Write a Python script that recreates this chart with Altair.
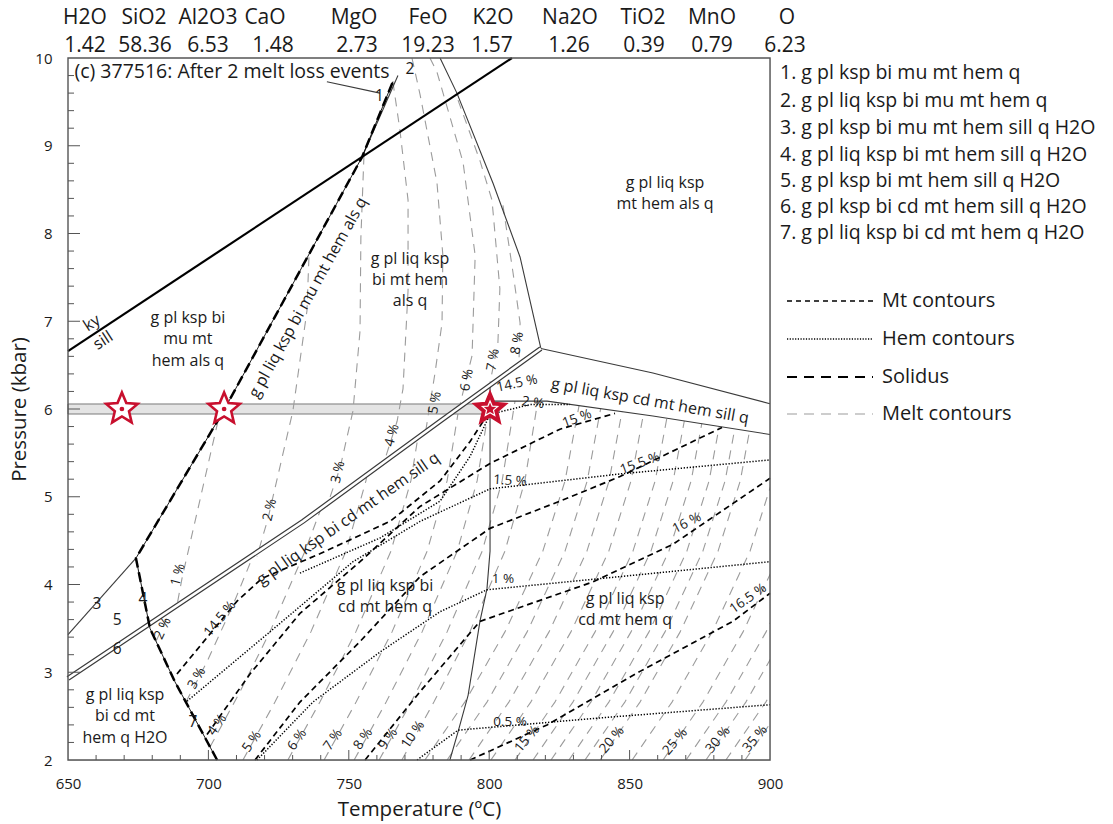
import altair as alt
import pandas as pd

FONT = "Open Sans"
RED = "#c8102e"
INK = "#1a1a1a"
GREY = "#9c9c9c"

# ---------------- bulk composition (header) ----------------
oxides = ["H2O", "SiO2", "Al2O3", "CaO", "MgO", "FeO", "K2O", "Na2O", "TiO2", "MnO", "O"]
amounts = ["1.42", "58.36", "6.53", "1.48", "2.73", "19.23", "1.57", "1.26", "0.39", "0.79", "6.23"]

# ---------------- phase boundaries (T in degC, P in kbar) ----------------
ky_sill = [(650, 6.66), (808.1, 10.0)]
solidus = [(703.1, 2.0), (688.1, 2.89), (679.2, 3.50), (674.2, 4.30),
           (705.6, 5.99), (754.7, 8.87), (765.7, 9.73)]
reaction_12 = [(754.7, 8.87), (767.5, 9.80)]
leader_1 = [(742.2, 9.73), (761.1, 9.60)]
line_3 = [(650, 3.43), (674.2, 4.30)]
bi_out = [(800.3, 6.25), (800.3, 6.0), (800.3, 4.38), (799.2, 3.95), (796.7, 3.58),
          (792.5, 2.74), (788.9, 2.32), (786.0, 2.0)]
liq_edge = [(782.5, 10.0), (788.5, 9.60), (801.4, 8.57), (811.0, 7.73), (818.4, 6.69)]
cd_sill_top = [(818.4, 6.69), (858.3, 6.41), (900, 6.06)]
cd_sill_base = [(800.3, 6.09), (820.6, 6.09), (858.3, 5.92), (900, 5.71)]
sill_out = [(650, 2.93), (733.7, 4.72), (782.5, 5.86), (818.4, 6.69)]

# ---------------- melt isopleths (vol %) ----------------
melt_upper = {
    "1": [(703.4, 5.86), (690.6, 4.07), (688.8, 3.76)],
    "2": [(735.8, 7.73), (735.1, 7.12), (730.1, 5.98), (721.2, 4.75), (717.3, 4.32)],
    "3": [(755.4, 8.89), (754.3, 7.95), (754.0, 6.89), (751.5, 5.98), (746.9, 5.33), (742.2, 4.89)],
    "4": [(765.7, 9.73), (768.2, 9.18), (771.1, 8.38), (771.1, 7.35), (769.3, 6.23), (767.2, 5.86), (762.9, 5.43)],
    "5": [(772.5, 10.0), (775.4, 9.58), (781.4, 8.58), (783.5, 7.75), (783.2, 6.98), (780.7, 6.41), (777.5, 5.77)],
    "6": [(778.9, 10.0), (781.4, 9.84), (790.7, 8.81), (795.0, 7.75), (793.9, 6.61), (789.6, 6.05)],
    "7": [(788.9, 9.52), (796.7, 8.83), (801.0, 8.38), (803.8, 7.37), (803.1, 6.75), (800.3, 6.30)],
    "8": [(804.9, 8.32), (808.5, 7.55), (811.0, 6.98), (810.6, 6.53)],
}
melt_lower = {
    "2": [(681.3, 3.35), (687.0, 3.74), (689.2, 3.87)],
    "3": [(692.0, 2.66), (699.5, 3.12), (708.8, 3.77), (716.6, 4.38)],
    "4": [(700.6, 2.15), (711.3, 2.78), (721.9, 3.46), (734.4, 4.38), (745.1, 5.29)],
    "5": [(712.3, 2.0), (723.7, 2.66), (736.5, 3.46), (749.0, 4.38), (756.1, 5.18), (760.7, 6.09)],
    "6": [(728.3, 2.0), (739.7, 2.66), (752.5, 3.46), (765.0, 4.38), (772.1, 5.18), (776.7, 6.09)],
    "7": [(741.2, 2.0), (752.6, 2.66), (765.4, 3.46), (777.9, 4.38), (785.0, 5.18), (789.6, 6.09)],
    "8": [(751.9, 2.0), (763.3, 2.66), (776.1, 3.46), (788.6, 4.38), (795.7, 5.18), (800.3, 6.09)],
    "9": [(760.8, 2.0), (772.2, 2.66), (785.0, 3.46), (797.5, 4.38), (804.6, 5.18), (809.2, 6.09)],
    "10": [(768.9, 2.0), (780.3, 2.66), (793.1, 3.46), (805.6, 4.38), (812.7, 5.18), (817.3, 6.09)],
    "11": [(777.1, 2.0), (791.3, 2.66), (805.6, 3.46), (819.1, 4.38), (827.0, 5.18), (832.3, 6.09)],
    "12": [(785.0, 2.0), (799.2, 2.66), (813.5, 3.46), (827.0, 4.38), (834.9, 5.18), (840.2, 6.09)],
    "13": [(792.8, 2.0), (807.0, 2.66), (821.3, 3.46), (834.8, 4.38), (842.7, 5.18), (848.0, 6.09)],
    "14": [(800.6, 2.0), (814.8, 2.66), (829.1, 3.46), (842.6, 4.38), (850.5, 5.18), (855.8, 6.09)],
    "15": [(809.2, 2.0), (823.4, 2.66), (837.7, 3.46), (851.2, 4.38), (859.1, 5.18), (864.4, 6.09)],
    "16": [(815.6, 2.0), (829.8, 2.66), (844.1, 3.46), (857.6, 4.38), (865.5, 5.18), (870.8, 6.09)],
    "17": [(822.0, 2.0), (836.2, 2.66), (850.5, 3.46), (864.0, 4.38), (871.9, 5.18), (877.2, 6.09)],
    "18": [(828.4, 2.0), (842.6, 2.66), (856.9, 3.46), (870.4, 4.38), (878.3, 5.18), (883.6, 6.09)],
    "19": [(834.1, 2.0), (848.3, 2.66), (862.6, 3.46), (876.1, 4.38), (884.0, 5.18), (889.3, 6.09)],
    "20": [(839.5, 2.0), (853.7, 2.66), (868.0, 3.46), (881.5, 4.38), (889.4, 5.18), (894.7, 6.09)],
    "22.5": [(850.9, 2.0), (865.1, 2.66), (879.4, 3.46), (892.9, 4.38), (900.8, 5.18)],
    "25": [(861.9, 2.0), (876.1, 2.66), (890.4, 3.46), (903.9, 4.38)],
    "27.5": [(870.1, 2.0), (884.3, 2.66), (898.6, 3.46), (912.1, 4.38)],
    "30": [(877.2, 2.0), (891.4, 2.66), (905.7, 3.46)],
    "32.5": [(884.3, 2.0), (898.5, 2.66), (912.8, 3.46)],
    "35": [(891.1, 2.0), (905.3, 2.66)],
}

# ---------------- magnetite / hematite isopleths ----------------
mt_contours = {
    "14.5": [(688.8, 2.98), (710.2, 3.81), (719.1, 4.07), (739.7, 4.35), (764.7, 4.72),
             (782.5, 5.18), (793.2, 5.63), (800.3, 5.98)],
    "15": [(699.5, 2.29), (714.8, 2.98), (732.6, 3.67), (754.0, 4.26), (775.4, 4.89),
           (800.3, 5.38), (825.2, 5.77), (844.8, 5.95)],
    "15.5": [(716.6, 2.0), (732.6, 2.66), (754.0, 3.35), (775.4, 4.09), (800.3, 4.64),
             (825.2, 4.95), (846.6, 5.23), (882.9, 5.79)],
    "16": [(755.8, 2.0), (775.4, 2.78), (796.7, 3.58), (837.0, 4.03), (865.5, 4.46), (900, 5.21)],
    "16.5": [(793.2, 2.0), (820.6, 2.40), (853.7, 3.01), (886.8, 3.58), (900, 3.90)],
}
hem_contours = {
    "2": [(732.6, 4.13), (761.1, 4.53), (782.5, 4.95), (793.2, 5.46), (800.3, 5.94),
          (814.5, 6.05), (828.8, 6.05)],
    "1.5": [(692.4, 2.67), (721.9, 3.46), (751.5, 4.26), (775.4, 4.72), (800.3, 5.09),
            (846.6, 5.26), (900, 5.42)],
    "1": [(717.3, 2.0), (737.2, 2.66), (761.1, 3.23), (782.5, 3.69), (799.2, 3.94),
          (846.6, 4.09), (900, 4.26)],
    "0.5": [(774.3, 2.0), (788.9, 2.34), (839.5, 2.48), (900, 2.63)],
}

# sample path, bracketed by the grey band
band = {"T": 650, "T2": 800.3, "P": 5.943, "P2": 6.057}
star_T = [669.2, 705.6, 800.3]
star_P = [6.0, 6.0, 6.0]

# ---------------- labels ----------------
field_labels = [
    ("g pl ksp bi", 692.7, 7.04), ("mu mt", 692.7, 6.80), ("hem als q", 692.7, 6.55),
    ("g pl liq ksp", 771.8, 7.71), ("bi mt hem", 771.8, 7.47), ("als q", 771.8, 7.23),
    ("g pl liq ksp", 862.6, 8.58), ("mt hem als q", 862.6, 8.34),
    ("g pl liq ksp", 848.4, 3.84), ("cd mt hem q", 848.4, 3.60),
    ("g pl liq ksp bi", 762.9, 3.98), ("cd mt hem q", 762.9, 3.74),
    ("g pl liq ksp", 670.3, 2.74), ("bi cd mt", 670.3, 2.50), ("hem q H2O", 670.3, 2.25),
]
rotated_labels = [
    ("g pl liq ksp bi mu mt hem als q", 735.5, 7.27, 299),
    ("g pl liq ksp bi cd mt hem sill q", 749.8, 4.75, 325),
    ("g pl liq ksp cd mt hem sill q", 857.3, 6.09, 10),
    ("ky", 658.5, 6.98, 327), ("sill", 662.5, 6.78, 327),
]
pct_labels = [
    ("1 %", 689.2, 4.11, 285), ("2 %", 721.9, 4.85, 283), ("3 %", 746.2, 5.28, 283),
    ("4 %", 765.4, 5.70, 285), ("5 %", 780.7, 6.07, 280), ("6 %", 792.1, 6.33, 280),
    ("7 %", 801.4, 6.56, 280), ("8 %", 810.0, 6.75, 280),
    ("2 %", 683.8, 3.50, 295), ("3 %", 695.9, 2.93, 300), ("4 %", 703.1, 2.40, 305),
    ("5 %", 715.5, 2.21, 305), ("6 %", 731.6, 2.23, 305), ("7 %", 744.4, 2.23, 305),
    ("8 %", 755.1, 2.24, 305), ("9 %", 764.0, 2.24, 305), ("10 %", 772.9, 2.29, 305),
    ("15 %", 813.5, 2.24, 310), ("20 %", 843.7, 2.23, 310), ("25 %", 866.2, 2.21, 310),
    ("30 %", 881.5, 2.23, 310), ("35 %", 894.7, 2.24, 310),
    ("14.5 %", 704.1, 3.61, 310), ("14.5 %", 809.9, 6.29, 348), ("15 %", 831.3, 5.89, 340),
    ("15.5 %", 853.7, 5.38, 340), ("16 %", 870.4, 4.70, 333), ("16.5 %", 892.2, 3.84, 325),
    ("2 %", 815.6, 6.07, 8), ("1.5 %", 807.4, 5.18, 4), ("1 %", 804.9, 4.06, 0),
    ("0.5 %", 807.4, 2.43, 0),
]
field_numbers = [("1", 760.9, 9.57), ("2", 771.8, 9.88), ("3", 660.3, 3.78), ("4", 676.7, 3.84),
                 ("5", 667.5, 3.60), ("6", 667.5, 3.26), ("7", 694.5, 2.43)]
numbered_fields = [
    "1. g pl ksp bi mu mt hem q",
    "2. g pl liq ksp bi mu mt hem q",
    "3. g pl ksp bi mu mt hem sill q H2O",
    "4. g pl liq ksp bi mt hem sill q H2O",
    "5. g pl ksp bi mt hem sill q H2O",
    "6. g pl ksp bi cd mt hem sill q H2O",
    "7. g pl liq ksp bi cd mt hem q H2O",
]
key_names = ["Mt contours", "Hem contours", "Solidus", "Melt contours"]

x_major = [650, 700, 750, 800, 850, 900]
y_major = [2, 3, 4, 5, 6, 7, 8, 9, 10]
x_minor = [t for t in range(660, 900, 10) if t % 50]
y_minor = [round(2 + 0.2 * k, 1) for k in range(1, 40) if k % 5]

# ---------------- helpers ----------------
xs = alt.Scale(domain=[650, 900], nice=False, zero=False)
ys = alt.Scale(domain=[2, 10], nice=False, zero=False)
x_axis = alt.Axis(values=x_major, tickSize=0, domain=False, grid=False, labelFontSize=15,
                  labelPadding=16, labelFont=FONT, labelColor=INK, labelFlush=False,
                  titleFont=FONT, titleFontSize=20.5, titleFontWeight="normal",
                  titleColor=INK, titlePadding=8)
y_axis = alt.Axis(values=y_major, tickSize=0, domain=False, grid=False, labelFontSize=15,
                  labelPadding=16, labelFont=FONT, labelColor=INK, labelFlush=False,
                  titleFont=FONT, titleFontSize=20.5, titleFontWeight="normal",
                  titleColor=INK, titlePadding=5)


def X(field="T"):
    return alt.X(f"{field}:Q", scale=xs, axis=x_axis, title="Temperature (ºC)")


def Y(field="P"):
    return alt.Y(f"{field}:Q", scale=ys, axis=y_axis, title="Pressure (kbar)")


def paths_df(paths):
    rows = []
    for name, pts in paths.items():
        for i, (t, p) in enumerate(pts):
            rows.append({"id": name, "i": i, "T": t, "P": p})
    return pd.DataFrame(rows)


def path_layer(paths, **mark):
    return alt.Chart(paths_df(paths)).mark_line(**mark).encode(
        x=X(), y=Y(), detail="id:N", order="i:Q")


def text_layer(rows, size, **mark):
    df = pd.DataFrame([{"text": r[0], "T": r[1], "P": r[2],
                        "angle": r[3] if len(r) > 3 else 0} for r in rows])
    return alt.Chart(df).mark_text(font=FONT, color=INK, fontSize=size, baseline="middle",
                                   **mark).encode(
        x=X(), y=Y(), text="text:N", angle=alt.Angle("angle:Q", scale=None))


STAR = ("M0,-1L0.265,-0.364L0.951,-0.309L0.428,0.139L0.588,0.809L0,0.45"
        "L-0.588,0.809L-0.428,0.139L-0.951,-0.309L-0.265,-0.364Z")

layers = []

# melt isopleths below the sill-out line, trimmed by a white mask above that line
layers.append(path_layer(melt_lower, color=GREY, strokeWidth=1.1, strokeDash=[9, 7], clip=True))
mask_edge = [p for p in sill_out if p[0] < 800] + cd_sill_base
mask_df = pd.DataFrame({"T": [p[0] for p in mask_edge], "P": [p[1] for p in mask_edge],
                        "Ptop": [10] * len(mask_edge)})
layers.append(alt.Chart(mask_df).mark_area(color="white", opacity=1).encode(
    x=X(), y=Y(), y2=alt.Y2("Ptop:Q")))

# grey band along the sample path
layers.append(alt.Chart(pd.DataFrame([band])).mark_rect(
    fill="#e4e4e4", stroke="#7a7a7a", strokeWidth=1).encode(
    x=X(), x2=alt.X2("T2:Q"), y=Y(), y2=alt.Y2("P2:Q")))

layers.append(path_layer(melt_upper, color=GREY, strokeWidth=1.1, strokeDash=[9, 7]))

# thin phase boundaries
layers.append(path_layer({"bi": bi_out, "liq": liq_edge, "cdt": cd_sill_top,
                          "cdb": cd_sill_base, "l3": line_3, "r12": reaction_12,
                          "lead": leader_1},
                         color="#3a3a3a", strokeWidth=1.1))
# sill-out drawn as a double line
layers.append(path_layer({"s": sill_out}, color="#3a3a3a", strokeWidth=5))
layers.append(path_layer({"s": sill_out}, color="white", strokeWidth=2.6))
# Al2SiO5 reaction
layers.append(path_layer({"ky": ky_sill}, color="black", strokeWidth=2.2))

# Mt and Hem isopleths
layers.append(path_layer(mt_contours, color="black", strokeWidth=1.7, strokeDash=[6, 4]))
layers.append(path_layer(hem_contours, color="black", strokeWidth=1.5, strokeDash=[1.3, 1.7]))

# solidus
layers.append(path_layer({"sol": solidus}, color="black", strokeWidth=0.9))
layers.append(path_layer({"sol": solidus}, color="black", strokeWidth=2.5, strokeDash=[10, 5]))

# labels
layers.append(text_layer(field_labels, 16, align="center"))
layers.append(text_layer(rotated_labels, 16, align="center"))
layers.append(text_layer(pct_labels, 13.5, align="center"))
layers.append(text_layer(field_numbers, 15.5, align="center"))
layers.append(text_layer([("(c) 377516: After 2 melt loss events", 652.3, 9.84)], 19.5,
                         align="left"))

# sample stars
stars = pd.DataFrame({"T": star_T, "P": star_P})
layers.append(alt.Chart(stars.iloc[:2]).mark_point(
    shape=STAR, size=1100, filled=True, fill="white", stroke=RED, strokeWidth=2.6,
    opacity=1).encode(x=X(), y=Y()))
layers.append(alt.Chart(stars.iloc[:2]).mark_point(
    shape="circle", size=22, filled=True, color=RED, opacity=1).encode(x=X(), y=Y()))
layers.append(alt.Chart(stars.iloc[2:]).mark_point(
    shape=STAR, size=1250, filled=True, fill=RED, stroke=RED, strokeWidth=1.5,
    opacity=1).encode(x=X(), y=Y()))
layers.append(alt.Chart(stars.iloc[2:]).mark_point(
    shape=STAR, size=260, filled=False, stroke="white", strokeWidth=1.2,
    opacity=1).encode(x=X(), y=Y()))

# frame and inward ticks
layers.append(alt.Chart(pd.DataFrame([{"T": 650, "T2": 900, "P": 2, "P2": 10}])).mark_rect(
    filled=False, color="#555555", strokeWidth=1.4).encode(
    x=X(), x2=alt.X2("T2:Q"), y=Y(), y2=alt.Y2("P2:Q")))
layers.append(alt.Chart(pd.DataFrame({"T": x_minor})).mark_rule(
    color="#555555", strokeWidth=1).encode(x=X(), y=alt.value(702), y2=alt.value(697)))
layers.append(alt.Chart(pd.DataFrame({"T": x_major[1:-1]})).mark_rule(
    color="#555555", strokeWidth=1).encode(x=X(), y=alt.value(702), y2=alt.value(692)))
layers.append(alt.Chart(pd.DataFrame({"P": y_minor})).mark_rule(
    color="#555555", strokeWidth=1).encode(y=Y(), x=alt.value(0), x2=alt.value(6)))
layers.append(alt.Chart(pd.DataFrame({"P": y_major[1:-1]})).mark_rule(
    color="#555555", strokeWidth=1).encode(y=Y(), x=alt.value(0), x2=alt.value(12)))

# header: bulk composition (pixel layout relative to the plot origin)
head_x = [17, 76, 140, 197, 286, 360, 425, 502, 575, 644, 719]
val_x = [17, 77, 140, 205, 289, 360, 424, 501, 576, 644, 717]
head = pd.DataFrame({"text": oxides + amounts, "px": head_x + val_x,
                     "py": [-40] * len(oxides) + [-12] * len(amounts)})
layers.append(alt.Chart(head).mark_text(font=FONT, fontSize=21, color=INK, align="center",
                                        baseline="middle").encode(
    x=alt.X("px:Q", scale=None), y=alt.Y("py:Q", scale=None), text="text:N"))

# key to the numbered fields
keyn = pd.DataFrame({"text": numbered_fields, "px": [712] * 7,
                     "py": [15, 43, 70, 97, 123, 149, 175]})
layers.append(alt.Chart(keyn).mark_text(font=FONT, fontSize=19.5, color=INK, align="left",
                                        baseline="middle").encode(
    x=alt.X("px:Q", scale=None), y=alt.Y("py:Q", scale=None), text="text:N"))

# line-style key
key_y = [243, 281, 319, 356]
keyt = pd.DataFrame({"text": key_names, "px": [814] * 4, "py": key_y})
layers.append(alt.Chart(keyt).mark_text(font=FONT, fontSize=20, color=INK, align="left",
                                        baseline="middle").encode(
    x=alt.X("px:Q", scale=None), y=alt.Y("py:Q", scale=None), text="text:N"))
key_styles = [
    dict(color="black", strokeWidth=1.4, strokeDash=[5, 4]),
    dict(color="black", strokeWidth=1.4, strokeDash=[1.2, 1.5]),
    dict(color="black", strokeWidth=2.2, strokeDash=[10, 7]),
    dict(color=GREY, strokeWidth=1.1, strokeDash=[10, 7]),
]
for ky_, style in zip(key_y, key_styles):
    layers.append(alt.Chart(pd.DataFrame({"x1": [719], "x2": [805], "py": [ky_]})).mark_rule(
        **style).encode(x=alt.X("x1:Q", scale=None), x2=alt.X2("x2:Q"),
                        y=alt.Y("py:Q", scale=None)))

chart = alt.layer(*layers).properties(
    width=702, height=702,
    padding={"left": 68, "top": 58, "right": 343, "bottom": 64},
    autosize=alt.AutoSizeParams(type="none"),
).configure_view(stroke=None).configure(background="white")

chart.save("out.html", embed_options={"renderer": "svg", "actions": False})
